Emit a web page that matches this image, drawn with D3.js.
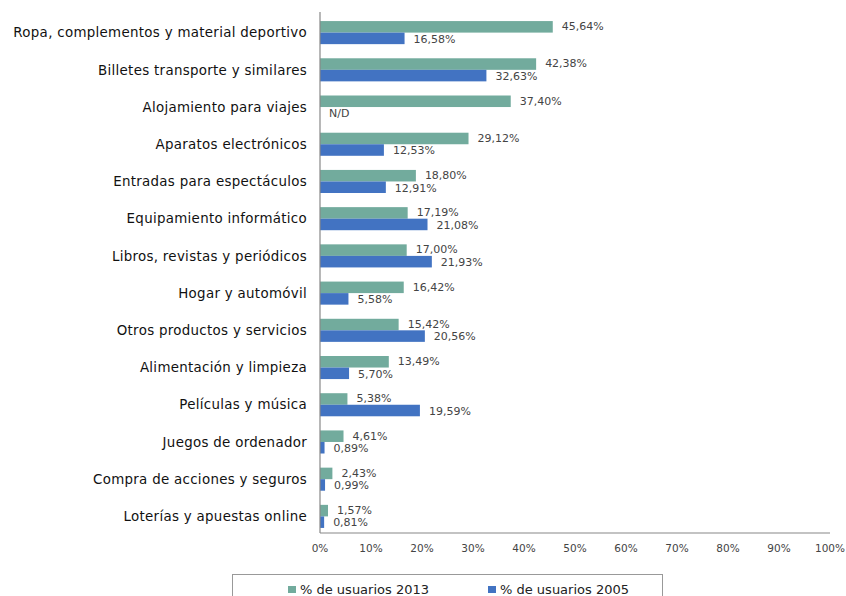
<!DOCTYPE html>
<html>
<head>
<meta charset="utf-8">
<script src="https://cdn.jsdelivr.net/npm/d3@7"></script>
<style>
  body { margin: 0; background: #fff; }
  svg text { font-family: "DejaVu Sans", Verdana, sans-serif; }
</style>
</head>
<body>
<svg id="chart" width="846" height="596"></svg>
<script>
const categories = [
  "Ropa, complementos y material deportivo",
  "Billetes transporte y similares",
  "Alojamiento para viajes",
  "Aparatos electrónicos",
  "Entradas para espectáculos",
  "Equipamiento informático",
  "Libros, revistas y periódicos",
  "Hogar y automóvil",
  "Otros productos y servicios",
  "Alimentación y limpieza",
  "Películas y música",
  "Juegos de ordenador",
  "Compra de acciones y seguros",
  "Loterías y apuestas online"
];
const users2013 = [45.64, 42.38, 37.40, 29.12, 18.80, 17.19, 17.00, 16.42, 15.42, 13.49, 5.38, 4.61, 2.43, 1.57];
const users2005 = [16.58, 32.63, null, 12.53, 12.91, 21.08, 21.93, 5.58, 20.56, 5.70, 19.59, 0.89, 0.99, 0.81];
const xTicks = [0, 10, 20, 30, 40, 50, 60, 70, 80, 90, 100];
const seriesNames = ["% de usuarios 2013", "% de usuarios 2005"];
const colors = ["#72ab9d", "#4273c2"];

const svg = d3.select("#chart");
const x = d3.scaleLinear().domain([0, 100]).range([320, 830]);
const y = d3.scaleBand().domain(categories).range([14, 535]).paddingInner(0.38).paddingOuter(0.19);
const fmt = v => v == null ? "N/D" : d3.format(".2f")(v).replace(".", ",") + "%";

var rows = categories.map(function(c, i) { return {cat: c, v13: users2013[i], v05: users2005[i]}; });
var bh = y.bandwidth() / 2;

var g = svg.append("g");
var row = g.selectAll("g.row").data(rows).enter().append("g").attr("class", "row")
    .attr("transform", function(d) { return `translate(0,${y(d.cat)})`; });

row.append("rect").attr("x", x(0)).attr("y", 0)
    .attr("width", function(d) { return x(d.v13) - x(0); }).attr("height", bh)
    .attr("fill", colors[0]);
row.filter(function(d) { return d.v05 != null; }).append("rect")
    .attr("x", x(0)).attr("y", bh)
    .attr("width", function(d) { return x(d.v05) - x(0); }).attr("height", bh)
    .attr("fill", colors[1]);

// value labels
row.append("text").attr("x", function(d) { return x(d.v13) + 9; }).attr("y", bh / 2 - 0.5)
    .attr("dy", "0.35em").attr("font-size", 11).attr("fill", "#444").text(function(d) { return fmt(d.v13); });
row.append("text").attr("x", function(d) { return x(d.v05 || 0) + 9; }).attr("y", bh * 1.5 + 0.5)
    .attr("dy", "0.35em").attr("font-size", 11).attr("fill", "#444").text(function(d) { return fmt(d.v05); });

// category labels
g.selectAll("text.cat").data(categories).enter().append("text").attr("class", "cat")
    .attr("x", 307).attr("y", function(d) { return y(d) + y.bandwidth() / 2; })
    .attr("dy", "0.35em").attr("text-anchor", "end").attr("font-size", 13.4)
    .attr("letter-spacing", 0.3).attr("fill", "#111")
    .text(function(d) { return d; });

// axes lines
svg.append("line").attr("x1", x(0)).attr("x2", x(0)).attr("y1", 12).attr("y2", 533)
    .attr("stroke", "#888").attr("stroke-width", 1.2);
svg.append("line").attr("x1", x(0)).attr("x2", x(100)).attr("y1", 533).attr("y2", 533)
    .attr("stroke", "#888").attr("stroke-width", 1.2);

svg.selectAll("text.tick").data(xTicks).enter().append("text").attr("class", "tick")
    .attr("x", function(d) { return x(d); }).attr("y", 552).attr("text-anchor", "middle")
    .attr("font-size", 10.5).attr("fill", "#444").text(function(d) { return d + "%"; });

// legend
var lg = svg.append("g");
lg.append("rect").attr("x", 232.5).attr("y", 574.5).attr("width", 430).attr("height", 30)
    .attr("fill", "none").attr("stroke", "#999");
var items = lg.selectAll("g.item").data(seriesNames).enter().append("g").attr("class", "item")
    .attr("transform", function(d, i) { return `translate(${i ? 488 : 288},0)`; });
items.append("rect").attr("x", 0).attr("y", 586).attr("width", 8).attr("height", 7)
    .attr("fill", function(d, i) { return colors[i]; });
items.append("text").attr("x", 12).attr("y", 594).attr("font-size", 13).attr("fill", "#222")
    .text(function(d) { return d; });
</script>
</body>
</html>
